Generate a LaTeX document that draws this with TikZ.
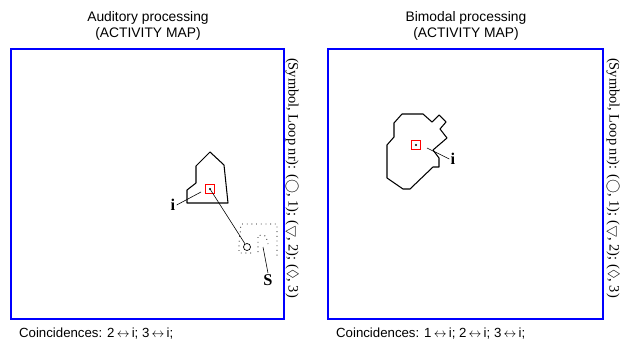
\documentclass[tikz,border=0pt]{standalone}
\usepackage{amssymb}
\usepackage{fontspec}
\setmainfont{Liberation Serif}
\setsansfont{Liberation Sans}
\usetikzlibrary{positioning}

\tikzset{
  mapbox/.style={draw=blue, line width=1.1pt},
  maptitle/.style={font=\sffamily\fontsize{11.8}{13.5}\selectfont, align=center},
  legend/.style={font=\fontsize{12.3}{14}\selectfont, rotate=-90},
  coinc/.style={font=\sffamily\fontsize{11.3}{12}\selectfont, anchor=west},
  region/.style={draw=black, line width=0.9pt, line join=round},
  spot/.style={line width=0.7pt, dash pattern=on 0.7pt off 3.3pt},
  neuron/.style={draw=red, line width=1pt, minimum size=8pt, inner sep=0pt},
  lbl/.style={font=\bfseries\fontsize{14}{14}\selectfont, inner sep=1pt}
}

\begin{document}
\begin{tikzpicture}[x=0.03cm, y=-0.03cm]

\useasboundingbox (0,0) rectangle (626,343);

% Titles of the two maps
\node[maptitle] (audtitle) at (148,26) {Auditory processing\\(ACTIVITY MAP)};
\node[maptitle] (bimtitle) at (466,26) {Bimodal processing\\(ACTIVITY MAP)};

% The two activity maps
\draw[mapbox] (11,49) rectangle (284,319);
\draw[mapbox] (328,49) rectangle (603,319);

% Legends, written sideways
\node[legend] (audlegend) at (292,178) {(Symbol, Loop nr): ($\bigcirc$, 1); ($\bigtriangledown$, 2); ($\Diamond$, 3)};
\node[legend] (bimlegend) at (613,178) {(Symbol, Loop nr): ($\bigcirc$, 1); ($\bigtriangledown$, 2); ($\Diamond$, 3)};

% Coincidences
\node[coinc] (audcoinc) at (15,334) {Coincidences: 2\,$\leftrightarrow$\,i; 3\,$\leftrightarrow$\,i;};
\node[coinc] (bimcoinc) at (332,334) {Coincidences: 1\,$\leftrightarrow$\,i; 2\,$\leftrightarrow$\,i; 3\,$\leftrightarrow$\,i;};

% Auditory region
\draw[region] (210,152) -- (224,165) -- (228,203) -- (187,203) -- (187,190)
  -- (196,183) -- (196,166) -- cycle;

% Sound source spot (dotted)
\draw[spot] (251,253) -- (239,253) -- (239,243) -- (241,224) -- (277,224) -- (277,258);
\draw[spot] (258,252) -- (258,235) -- (266,236) -- (268,244);

% Neuron i in the auditory map and its link to the source
\node[neuron] (audi) at (210,189) {};
\fill (audi.center) circle (0.9pt);
\node[draw, circle, inner sep=0pt, minimum size=6pt, line width=0.6pt] (src) at (247,247) {};
\draw[line width=0.5pt] (audi.center) -- (src);

% Labels
\node[lbl] (audilbl) at (173,205) {i};
\draw[line width=0.5pt] (audilbl.east) -- (201,192);
\node[lbl] (slbl) at (268,280) {S};
\draw[line width=0.5pt] (slbl.north) -- (263,247);

% Bimodal region
\draw[region] (402,114) -- (423,114) -- (432,122) -- (439,115) -- (446,122)
  -- (440,129) -- (447,138) -- (433,150) -- (439,158) -- (439,167) -- (433,167)
  -- (410,189) -- (403,189) -- (387,178) -- (387,145) -- (394,137)
  -- (394,123) -- cycle;

% Neuron i in the bimodal map
\node[neuron] (bimi) at (416,145) {};
\fill (bimi.center) circle (0.9pt);
\node[lbl] (bimilbl) at (453,159) {i};
\draw[line width=0.5pt] (bimilbl.west) -- (427,148);

\end{tikzpicture}
\end{document}
